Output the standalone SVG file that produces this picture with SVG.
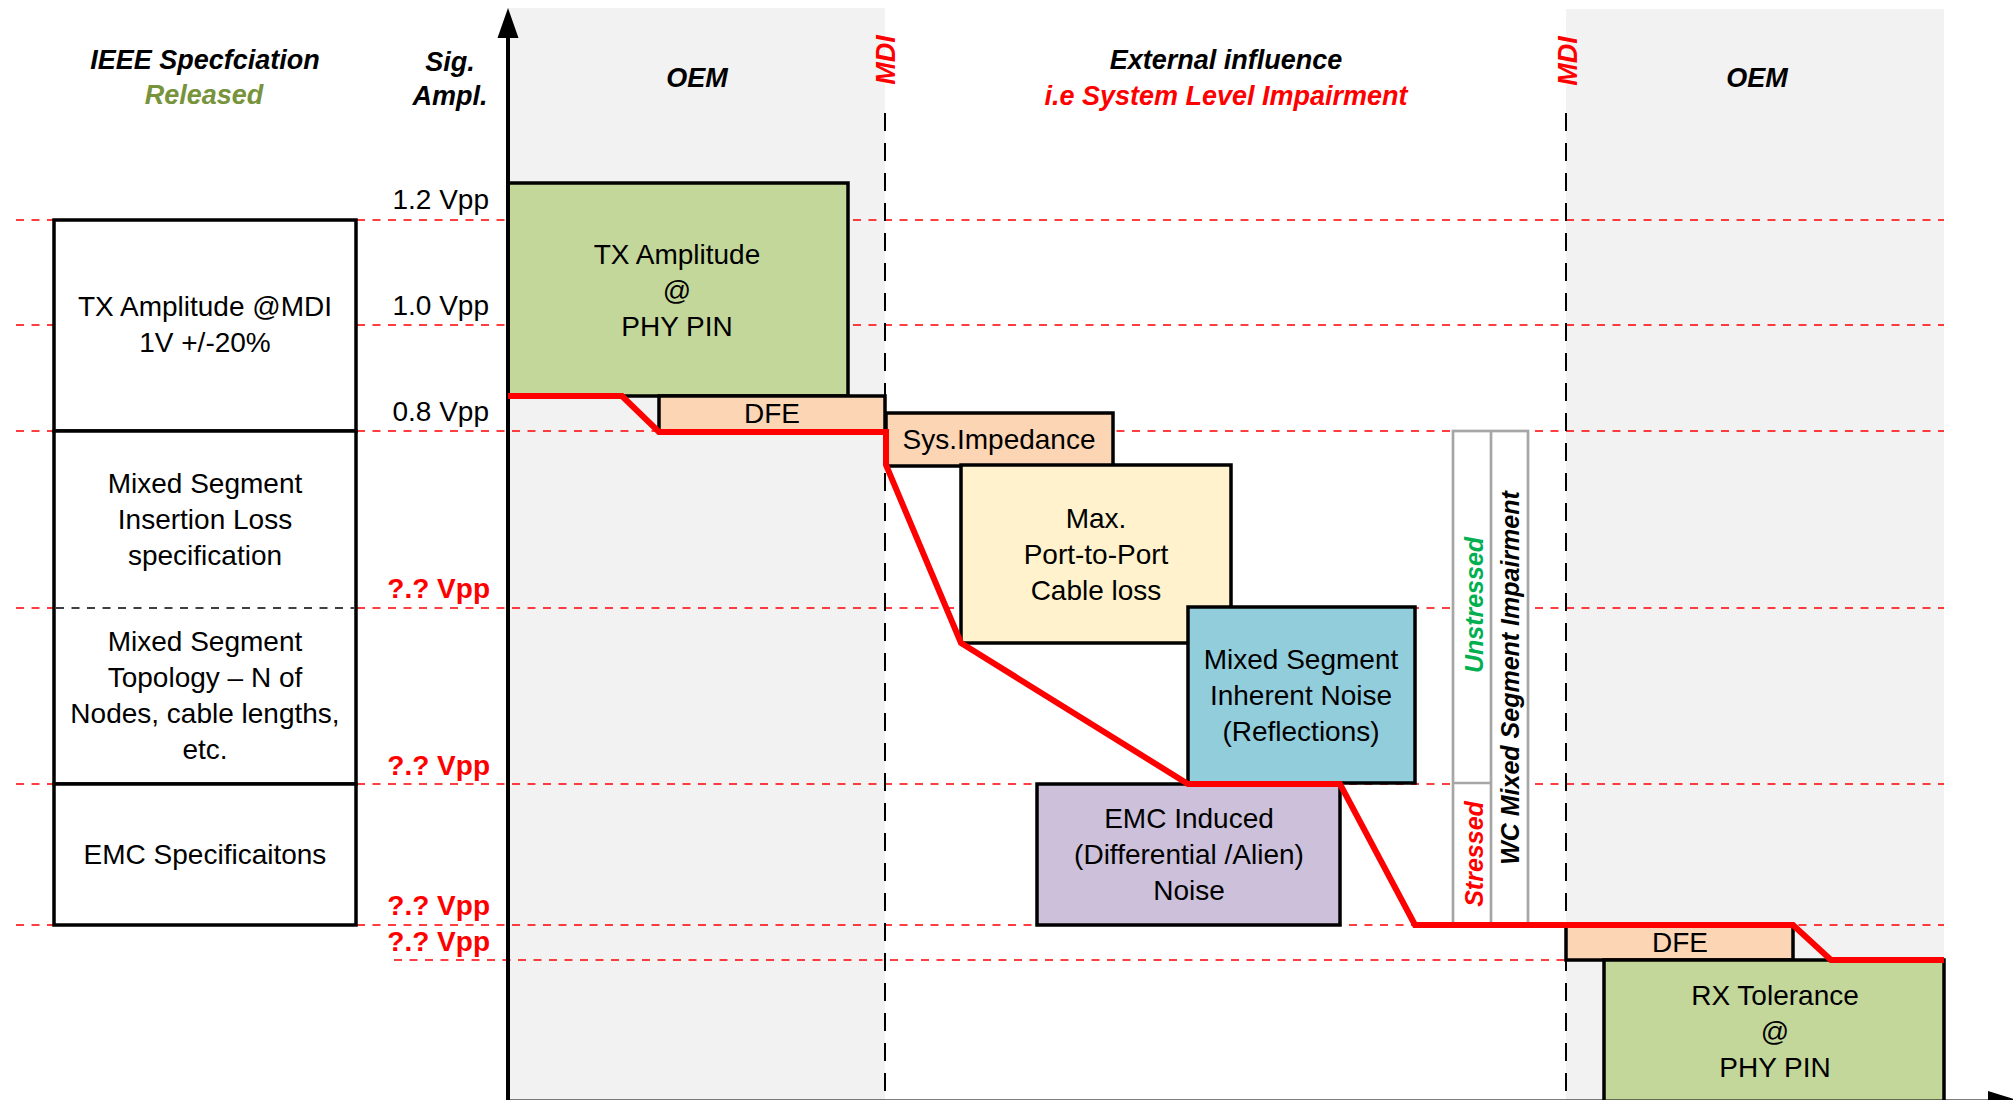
<svg xmlns="http://www.w3.org/2000/svg" width="2013" height="1100" viewBox="0 0 2013 1100">
<style>
  text { font-family: "Liberation Sans", Arial, sans-serif; }
  .t { font-size: 28px; fill: #000; text-anchor: middle; }
  .h { font-size: 27px; font-weight: bold; font-style: italic; text-anchor: middle; }
  .ax { font-size: 28px; fill: #000; text-anchor: end; }
  .axr { font-size: 28px; fill: #ff0000; font-weight: bold; text-anchor: end; }
  .rl { stroke: #ff0000; stroke-width: 1.3; stroke-dasharray: 8 7.5; fill: none; }
  .mdi { stroke: #000; stroke-width: 2; stroke-dasharray: 18 12; fill: none; }
  .box { stroke: #000; stroke-width: 3.5; }
  .col { fill: #fff; stroke: #a6a6a6; stroke-width: 2.7; }
  .vt { font-size: 25px; font-weight: bold; font-style: italic; text-anchor: middle; }
</style>

<!-- background zones -->
<rect x="508" y="8" width="377" height="1092" fill="#f2f2f2"/>
<rect x="1566" y="9" width="378" height="1091" fill="#f2f2f2"/>

<!-- level lines -->
<g id="levels">
  <line class="rl" x1="16" y1="220" x2="1944" y2="220"/>
  <line class="rl" x1="16" y1="325" x2="1944" y2="325"/>
  <line class="rl" x1="16" y1="431" x2="1944" y2="431"/>
  <line class="rl" x1="16" y1="608" x2="1944" y2="608"/>
  <line class="rl" x1="16" y1="784" x2="1944" y2="784"/>
  <line class="rl" x1="16" y1="925" x2="1944" y2="925"/>
  <line class="rl" x1="394" y1="960" x2="1944" y2="960"/>
</g>

<!-- headings -->
<g id="headings">
  <text class="h" x="205" y="69" fill="#000">IEEE Specfciation</text>
  <text class="h" x="204" y="104" fill="#77933c">Released</text>
  <text class="h" x="450" y="71" fill="#000">Sig.</text>
  <text class="h" x="450" y="105" fill="#000">Ampl.</text>
  <text class="h" x="697" y="87" fill="#000">OEM</text>
  <text class="h" x="1226" y="69" fill="#000">External influence</text>
  <text class="h" x="1226" y="105" fill="#ff0000">i.e System Level Impairment</text>
  <text class="h" x="1757" y="87" fill="#000">OEM</text>
  <text class="h" font-size="29" fill="#ff0000" transform="translate(895,60) rotate(-90)">MDI</text>
  <text class="h" font-size="29" fill="#ff0000" transform="translate(1577,61) rotate(-90)">MDI</text>
</g>

<!-- specification column -->
<g id="spec-tx">
  <rect class="box" x="54" y="220" width="302" height="211" fill="#fff"/>
  <text class="t" x="205" y="316">TX Amplitude @MDI</text>
  <text class="t" x="205" y="352">1V +/-20%</text>
</g>
<g id="spec-mixed">
  <rect class="box" x="54" y="431" width="302" height="353" fill="#fff"/>
  <line x1="56" y1="608" x2="354" y2="608" stroke="#000" stroke-width="1.5" stroke-dasharray="8 7.5"/>
  <text class="t" x="205" y="493">Mixed Segment</text>
  <text class="t" x="205" y="529">Insertion Loss</text>
  <text class="t" x="205" y="565">specification</text>
  <text class="t" x="205" y="651">Mixed Segment</text>
  <text class="t" x="205" y="687">Topology – N of</text>
  <text class="t" x="205" y="723">Nodes, cable lengths,</text>
  <text class="t" x="205" y="759">etc.</text>
</g>
<g id="spec-emc">
  <rect class="box" x="54" y="784" width="302" height="141" fill="#fff"/>
  <text class="t" x="205" y="864">EMC Specificaitons</text>
</g>

<!-- axis labels -->
<g id="axis-labels">
  <text class="ax" x="489" y="209">1.2 Vpp</text>
  <text class="ax" x="489" y="315">1.0 Vpp</text>
  <text class="ax" x="489" y="421">0.8 Vpp</text>
  <text class="axr" x="490" y="598">?.? Vpp</text>
  <text class="axr" x="490" y="775">?.? Vpp</text>
  <text class="axr" x="490" y="915">?.? Vpp</text>
  <text class="axr" x="490" y="951">?.? Vpp</text>
</g>

<!-- blocks -->
<g id="tx-amplitude">
  <rect class="box" x="508" y="183" width="340" height="213" fill="#c4d79b"/>
  <text class="t" x="677" y="264">TX Amplitude</text>
  <text class="t" x="677" y="300">@</text>
  <text class="t" x="677" y="336">PHY PIN</text>
</g>
<g id="dfe-tx">
  <rect class="box" x="659" y="396" width="226" height="35" fill="#fcd5b4"/>
  <text class="t" x="772" y="423">DFE</text>
</g>
<g id="sys-impedance">
  <rect class="box" x="886" y="413" width="227" height="53" fill="#fcd5b4"/>
  <text class="t" x="999" y="449">Sys.Impedance</text>
</g>
<g id="cable-loss">
  <rect class="box" x="961" y="465" width="270" height="178" fill="#fff2cc"/>
  <text class="t" x="1096" y="528">Max.</text>
  <text class="t" x="1096" y="564">Port-to-Port</text>
  <text class="t" x="1096" y="600">Cable loss</text>
</g>
<g id="inherent-noise">
  <rect class="box" x="1188" y="607" width="227" height="176" fill="#92cddc"/>
  <text class="t" x="1301" y="669">Mixed Segment</text>
  <text class="t" x="1301" y="705">Inherent Noise</text>
  <text class="t" x="1301" y="741">(Reflections)</text>
</g>
<g id="emc-noise">
  <rect class="box" x="1037" y="784" width="303" height="141" fill="#ccc0da"/>
  <text class="t" x="1189" y="828">EMC Induced</text>
  <text class="t" x="1189" y="864">(Differential /Alien)</text>
  <text class="t" x="1189" y="900">Noise</text>
</g>
<g id="dfe-rx">
  <rect class="box" x="1566" y="925" width="227" height="35" fill="#fcd5b4"/>
  <text class="t" x="1680" y="952">DFE</text>
</g>
<g id="rx-tolerance">
  <rect class="box" x="1604" y="960" width="340" height="150" fill="#c4d79b"/>
  <text class="t" x="1775" y="1005">RX Tolerance</text>
  <text class="t" x="1775" y="1041">@</text>
  <text class="t" x="1775" y="1077">PHY PIN</text>
</g>

<!-- impairment columns -->
<g id="impairment">
  <rect class="col" x="1453" y="431" width="75" height="494"/>
  <line x1="1491" y1="431" x2="1491" y2="925" stroke="#a6a6a6" stroke-width="2.7"/>
  <line x1="1453" y1="783" x2="1491" y2="783" stroke="#a6a6a6" stroke-width="2.7"/>
  <text class="vt" fill="#00b050" transform="translate(1483,605) rotate(-90)">Unstressed</text>
  <text class="vt" fill="#ff0000" transform="translate(1483,854) rotate(-90)">Stressed</text>
  <text class="vt" font-size="27" fill="#000" transform="translate(1519,678) rotate(-90)">WC Mixed Segment Impairment</text>
</g>

<!-- connectors -->
<g id="connectors">
  <line class="mdi" x1="885" y1="113" x2="885" y2="1100"/>
  <line class="mdi" x1="1566" y1="113" x2="1566" y2="1100"/>
  <line x1="508" y1="36" x2="508" y2="1100" stroke="#000" stroke-width="4"/>
  <polygon points="508,8 497.5,38 518.5,38" fill="#000"/>
  <line x1="508" y1="1101.5" x2="1992" y2="1101.5" stroke="#000" stroke-width="4"/>
  <polygon points="1988,1091 2022,1101.5 1988,1112" fill="#000"/>
  <polyline points="508,396 622,396 659,432 886,432 886,465 961,643 1188,784 1340,784 1415,925 1793,925 1831,960 1944,960" fill="none" stroke="#ff0000" stroke-width="6" stroke-linejoin="miter"/>
</g>
</svg>
